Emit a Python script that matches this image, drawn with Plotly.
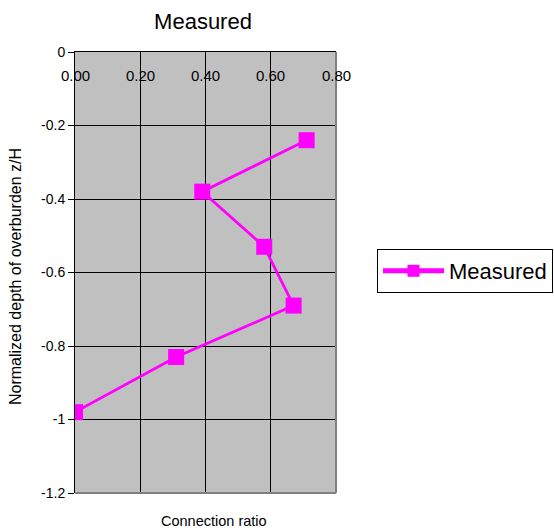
import plotly.graph_objects as go

# Connection ratio vs. normalized overburden depth
connection_ratio = [0.71, 0.39, 0.58, 0.67, 0.31, 0.00]
normalized_depth = [-0.24, -0.38, -0.53, -0.69, -0.83, -0.98]

x_ticks = [0.0, 0.2, 0.4, 0.6, 0.8]
y_ticks = [0, -0.2, -0.4, -0.6, -0.8, -1.0, -1.2]
y_tick_text = ["0", "-0.2", "-0.4", "-0.6", "-0.8", "-1", "-1.2"]

FONT = "Liberation Sans, Arial, Helvetica, sans-serif"
MAGENTA = "#FF00FF"

fig = go.Figure()
fig.add_trace(go.Scatter(
    x=connection_ratio, y=normalized_depth,
    mode="lines+markers", name="Measured",
    line=dict(color=MAGENTA, width=2.75),
    marker=dict(symbol="square", size=16, color=MAGENTA),
))

# x tick labels sit just under the top axis line, inside the plot area
tick_annotations = [
    dict(text=f"{v:.2f}", xref="x", yref="paper", x=v, y=1,
         yshift=-23, xanchor="center", yanchor="middle", showarrow=False,
         font=dict(size=15, family=FONT, color="black"))
    for v in x_ticks
]

fig.update_layout(
    width=554, height=531,
    margin=dict(l=75, r=218, t=52, b=38, autoexpand=False),
    paper_bgcolor="white",
    plot_bgcolor="#C0C0C0",
    font=dict(family=FONT, color="black", size=14),
    title=dict(text="Measured", x=203 / 554, xanchor="center",
               y=1 - 21 / 531, yanchor="middle",
               font=dict(size=22, family=FONT)),
    showlegend=True,
    legend=dict(x=(377 - 75) / 261, y=(493 - 271) / 441,
                xanchor="left", yanchor="middle",
                bgcolor="white", bordercolor="black", borderwidth=1,
                font=dict(size=22, family=FONT),
                itemsizing="constant", itemwidth=61),
    xaxis=dict(
        range=[0, 0.8], side="top", tickvals=x_ticks, showticklabels=False,
        ticks="",
        showgrid=True, gridcolor="black", gridwidth=1,
        showline=True, linecolor="black", linewidth=1,
        zeroline=False, fixedrange=True,
    ),
    yaxis=dict(
        range=[-1.2, 0], tickvals=y_ticks, ticktext=y_tick_text,
        ticks="outside", ticklen=6, tickcolor="black",
        tickfont=dict(size=14, family=FONT),
        showgrid=True, gridcolor="black", gridwidth=1,
        showline=True, linecolor="black", linewidth=1,
        zeroline=False, fixedrange=True,
    ),
    annotations=tick_annotations + [
        dict(text="Connection ratio", xref="paper", yref="paper",
             x=(214 - 75) / 261, y=0, yshift=-28,
             xanchor="center", yanchor="middle", showarrow=False,
             font=dict(size=14.5, family=FONT)),
        dict(text="Normalized depth of overburden z/H", xref="paper",
             yref="paper", x=0, xshift=-60, y=(493 - 277) / 441,
             textangle=-90, xanchor="center", yanchor="middle",
             showarrow=False, font=dict(size=16, family=FONT)),
    ],
    shapes=[
        # grey plot-area border on the right and bottom
        dict(type="line", xref="paper", yref="paper", x0=1, x1=1, y0=0, y1=1,
             line=dict(color="#808080", width=2), layer="above"),
        dict(type="line", xref="paper", yref="paper", x0=0, x1=1, y0=0, y1=0,
             line=dict(color="#808080", width=2), layer="above"),
    ],
)

fig.write_html("out.html")
